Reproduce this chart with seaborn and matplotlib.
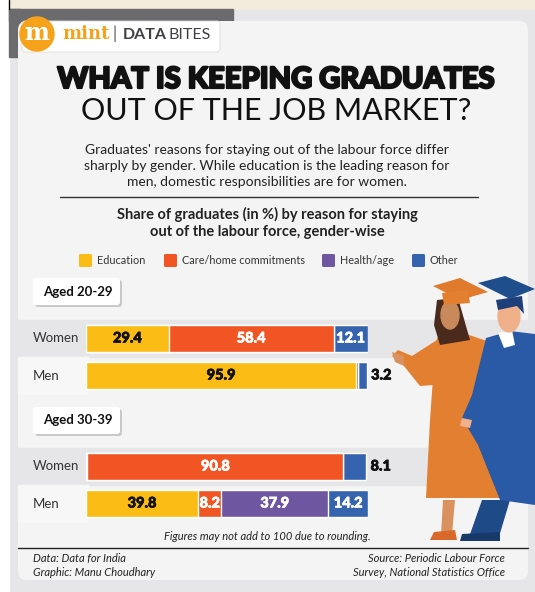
import matplotlib
matplotlib.use("Agg")
import matplotlib.pyplot as plt
import matplotlib.patheffects as pe
from matplotlib.patches import FancyBboxPatch, Rectangle, Circle, Polygon, Ellipse
import numpy as np
import pandas as pd
import seaborn as sns

# data
reasons = ["Education", "Care/home commitments", "Health/age", "Other"]
reason_colors = ["#fbbc15", "#f05523", "#6f56a0", "#3563ae"]
age_groups = ["Aged 20-29", "Aged 30-39"]
genders = ["Women", "Men"]
# rows: 20-29 women, 20-29 men, 30-39 women, 30-39 men
education = [29.4, 95.9, 0.5, 39.8]
care = [58.4, 0.5, 90.8, 8.2]
health = [0.0, 0.0, 0.0, 37.9]
other = [12.1, 3.2, 8.1, 14.2]

sns.set_theme(style="white")
plt.rcParams["font.family"] = ["Lato", "DejaVu Sans"]

W, H = 535, 592
fig = plt.figure(figsize=(W / 100, H / 100), dpi=100)
fig.patch.set_facecolor("#e6e6e8")

bg = fig.add_axes([0, 0, 1, 1])
bg.set_xlim(0, W)
bg.set_ylim(H, 0)
bg.axis("off")

# page furniture
bg.add_patch(Rectangle((0, 0), 9, H, color="white", zorder=0))
bg.add_patch(Rectangle((9, 0), W, 9, color="#f3ecdc", zorder=0))
bg.plot([9, 9], [0, 9], color="black", lw=1)
bg.add_patch(Rectangle((9, 9), 224, 12, color="#6b6b6e", zorder=0))
bg.add_patch(Rectangle((9, 9), 11, 48, color="#6b6b6e", zorder=0))
bg.add_patch(FancyBboxPatch((18, 21), 510, 559, boxstyle="round,pad=0,rounding_size=9",
                            fc="#f4f4f4", ec="none", zorder=1))

# logo
bg.add_patch(FancyBboxPatch((22, 21), 198, 31, boxstyle="round,pad=0,rounding_size=3",
                            fc="white", ec="#dddddd", lw=0.6, zorder=2))
bg.add_patch(Circle((37, 34), 17, color="#f6a31b", zorder=3))
bg.text(37, 33, "m", color="white", fontsize=17, fontweight="bold", family="DejaVu Serif",
        ha="center", va="center", zorder=4)
bg.text(62, 34, "mint", color="#f6a31b", fontsize=13, fontweight="bold", family="DejaVu Serif",
        ha="left", va="center", zorder=4)
bg.text(113, 34, "|", color="#555555", fontsize=12, ha="left", va="center", zorder=4)
bg.text(123, 35, "DATA", color="#3f3f44", fontsize=11.5, fontweight="bold", ha="left", va="center", zorder=4)
bg.text(168, 35, "BITES", color="#3f3f44", fontsize=11.5, ha="left", va="center", zorder=4)

# titles
bg.text(276, 80, "WHAT IS KEEPING GRADUATES", fontsize=21, fontweight="black",
        color="#111111", ha="center", va="center", zorder=3,
        path_effects=[pe.withStroke(linewidth=1.6, foreground="#111111")])
bg.text(276, 111, "OUT OF THE JOB MARKET?", fontsize=22, fontweight="normal",
        color="#111111", ha="center", va="center", zorder=3)
bg.text(267, 166, "Graduates' reasons for staying out of the labour force differ\n"
        "sharply by gender. While education is the leading reason for\n"
        "men, domestic responsibilities are for women.",
        fontsize=10, color="#222222", ha="center", va="center", linespacing=1.45, zorder=3)
bg.plot([60, 478], [197, 197], color="#333333", lw=1, zorder=3)
bg.text(267, 223, "Share of graduates (in %) by reason for staying\nout of the labour force, gender-wise",
        fontsize=10.5, fontweight="bold", color="#222222", ha="center", va="center",
        linespacing=1.2, zorder=3)

# legend
legend_x = [79, 164, 322, 412]
for lx, lab, col in zip(legend_x, reasons, reason_colors):
    bg.add_patch(FancyBboxPatch((lx, 254), 13, 13, boxstyle="round,pad=0,rounding_size=1.5",
                                fc=col, ec="none", zorder=3))
    bg.text(lx + 18, 260.5, lab, fontsize=7.8, color="#333333", ha="left", va="center", zorder=3)

# row bands, group boxes and row labels
group_top = [320, 448]
box_top = [278, 407]
for g, (gt, bt) in enumerate(zip(group_top, box_top)):
    bg.add_patch(FancyBboxPatch((35, bt + 2), 87, 27, boxstyle="round,pad=0,rounding_size=3",
                                fc="#c9c9c9", ec="none", zorder=2))
    bg.add_patch(FancyBboxPatch((33, bt), 87, 27, boxstyle="round,pad=0,rounding_size=3",
                                fc="white", ec="none", zorder=3))
    bg.text(43, bt + 13.5, age_groups[g], fontsize=9.5, fontweight="bold", color="#111111",
            ha="left", va="center", zorder=4)
    bg.add_patch(Rectangle((18, gt), 510, 37, color="#e6e6e8", zorder=2))
    bg.add_patch(Rectangle((18, gt + 37), 70, 37, color="#f7f7f7", zorder=2))
    for r, gname in enumerate(genders):
        bg.text(33, gt + 18.5 + 37 * r, gname, fontsize=9.5, color="#333333",
                ha="left", va="center", zorder=4)

# illustration (rough)
def poly(pts, col, z=6):
    bg.add_patch(Polygon(pts, closed=True, fc=col, ec="none", zorder=z))

poly([(443, 500), (455, 500), (452, 535), (441, 535)], "#d9925f")
poly([(434, 532), (455, 530), (457, 540), (430, 540)], "#d8692a")
poly([(437, 338), (463, 333), (490, 342), (497, 420), (500, 498), (426, 498), (430, 420), (433, 378)], "#e37f30")
poly([(437, 340), (412, 356), (398, 350), (392, 356), (404, 366), (420, 386), (446, 384)], "#e37f30")
poly([(392, 352), (404, 356), (404, 366), (395, 362)], "#d9925f")
poly([(437, 300), (458, 298), (470, 340), (440, 345), (434, 325)], "#4a2a1c")
bg.add_patch(Ellipse((450, 315), 18, 28, color="#c98a5b", zorder=6))
poly([(433, 286), (460, 278), (488, 292), (460, 300)], "#e07a2c")
poly([(442, 293), (468, 290), (470, 303), (444, 305)], "#e37f30")
poly([(482, 500), (510, 500), (498, 540), (468, 540)], "#1f4a88", 7)
poly([(462, 534), (500, 532), (500, 541), (460, 541)], "#173a6b", 7)
poly([(486, 338), (510, 331), (535, 334), (535, 505), (500, 500), (478, 445), (462, 418), (472, 395)], "#2a5aa5", 7)
poly([(498, 333), (512, 330), (515, 345), (504, 348)], "white", 7)
bg.add_patch(Ellipse((509, 316), 22, 32, color="#f0b08a", zorder=7))
poly([(496, 300), (522, 296), (524, 314), (517, 306), (498, 310)], "#1f3f7a", 7)
poly([(478, 283), (505, 276), (535, 289), (510, 299)], "#1f4e8c", 7)
poly([(462, 418), (472, 420), (470, 428), (460, 426)], "#f0b08a", 7)

# stacked bars, drawn as cumulative layers
values = np.array([education, care, health, other]).T
cum = np.cumsum(values, axis=1)
for g in range(2):
    rows = slice(2 * g, 2 * g + 2)
    df = pd.DataFrame({"gender": genders})
    for k in range(4):
        df[reasons[k]] = cum[rows, k]
    top = group_top[g]
    ax = fig.add_axes([86 / W, 1 - (top + 74) / H, 282 / W, 74 / H])
    ax.set_zorder(5)
    ax.patch.set_alpha(0)
    for k in range(3, -1, -1):
        sns.barplot(data=df, x=reasons[k], y="gender", color=reason_colors[k], width=0.73,
                    orient="h", saturation=1, ax=ax)
    ax.set_xlim(0, 100)
    ax.set_ylim(1.5, -0.5)
    ax.axis("off")
    for r in range(2):
        seg = values[2 * g + r]
        left = 0
        for k in range(4):
            v = seg[k]
            if v > 1:
                col = "#111111" if (k == 0 or (k == 3 and v < 10)) else "white"
                stroke = [pe.withStroke(linewidth=0.5, foreground=col)]
                if k == 3 and v < 10:
                    ax.text(left + v + 1.5, r, f"{v:.1f}", fontsize=10.5, fontweight="black",
                            color=col, ha="left", va="center", path_effects=stroke)
                else:
                    ax.text(left + v / 2, r, f"{v:.1f}", fontsize=10.5, fontweight="black",
                            color=col, ha="center", va="center", path_effects=stroke)
            left += v

# notes and footer
bg.text(267, 537, "Figures may not add to 100 due to rounding.", fontsize=8, style="italic",
        color="#222222", ha="center", va="center", zorder=4)
bg.plot([18, 528], [548, 548], color="#222222", lw=1, zorder=8)
bg.text(33, 565.5, "Data: Data for India\nGraphic: Manu Choudhary", fontsize=8, style="italic",
        color="#222222", ha="left", va="center", linespacing=1.3, zorder=4)
bg.text(505, 565.5, "Source: Periodic Labour Force\nSurvey, National Statistics Office", fontsize=8,
        style="italic", color="#222222", ha="right", va="center", linespacing=1.3, zorder=4)

fig.savefig("out.png", dpi=100)
